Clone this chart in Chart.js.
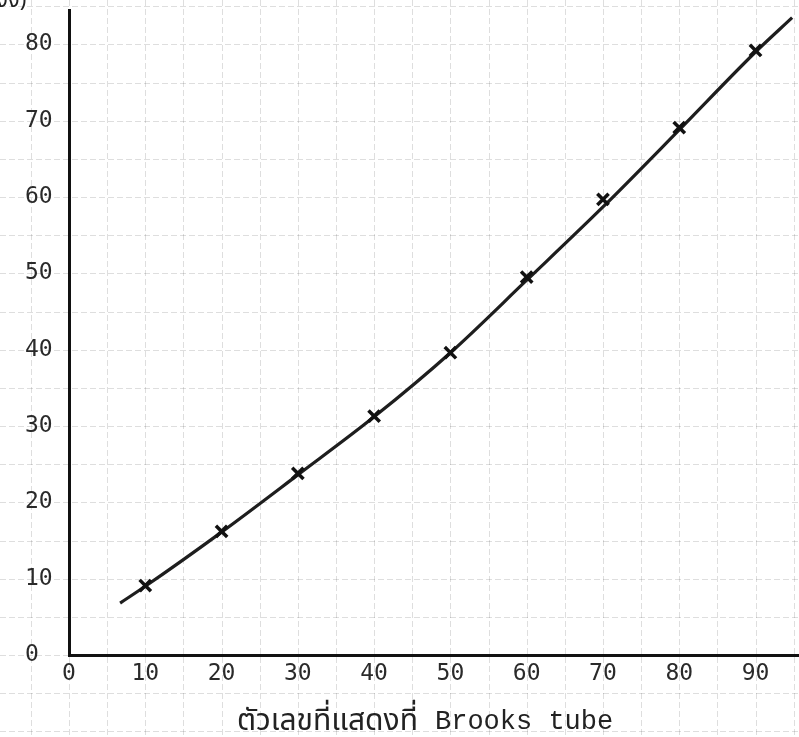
<!DOCTYPE html>
<html>
<head>
<meta charset="utf-8">
<script src="https://cdn.jsdelivr.net/npm/chart.js@4"></script>
<style>
  html, body { margin: 0; padding: 0; background: #fff; }
  #wrap { width: 799px; height: 737px; position: relative; }
</style>
</head>
<body>
<div id="wrap"><canvas id="c" width="799" height="737"></canvas></div>
<script>
// Brooks tube reading vs. measured value
const tubeReadings = [10, 20, 30, 40, 50, 60, 70, 80, 90];
const measured     = [9.1, 16.2, 23.8, 31.3, 39.6, 49.5, 59.7, 69.1, 79.2];

// Hand-drawn fitted curve through the readings
const curveX = [6.7, 10, 20, 30, 40, 50, 60, 70, 80, 90, 94.8];
const curveY = [6.8, 9.0, 16.1, 23.6, 31.2, 39.6, 49.1, 58.7, 68.8, 79.0, 83.5];

const xTicks = [0, 10, 20, 30, 40, 50, 60, 70, 80, 90];
const yTicks = [0, 10, 20, 30, 40, 50, 60, 70, 80];
const xTitleThai = 'ตัวเลขที่แสดงที่';
const xTitleLatin = 'Brooks tube';
const yTitleFragment = 'งง)';

const monoFont = '"DejaVu Sans Mono", "Liberation Mono", monospace';
const latinTitleFont = '"Liberation Mono", "DejaVu Sans Mono", monospace';
const thaiFont = '"Noto Sans Thai", "Noto Sans", "DejaVu Sans", sans-serif';

// Graph-paper grid every 5 units, running across the whole sheet
const paperGrid = {
  id: 'paperGrid',
  beforeDraw(chart) {
    const { ctx, scales: { x, y } } = chart;
    ctx.save();
    ctx.fillStyle = '#fff';
    ctx.fillRect(0, 0, chart.width, chart.height);
    ctx.strokeStyle = 'rgba(0,0,0,0.13)';
    ctx.lineWidth = 1;
    ctx.setLineDash([6, 3]);
    for (let v = -10; v <= 100; v += 5) {
      const px = Math.round(x.getPixelForValue(v)) + 0.5;
      ctx.beginPath(); ctx.moveTo(px, 0); ctx.lineTo(px, chart.height); ctx.stroke();
    }
    for (let v = -15; v <= 90; v += 5) {
      const py = Math.round(y.getPixelForValue(v)) + 0.5;
      ctx.beginPath(); ctx.moveTo(0, py); ctx.lineTo(chart.width, py); ctx.stroke();
    }
    ctx.restore();
  },
  afterDraw(chart) {
    const { ctx } = chart;
    ctx.save();
    ctx.fillStyle = '#222';
    ctx.textBaseline = 'alphabetic';
    ctx.textAlign = 'left';
    // cut-off unit label at the top of the value axis
    ctx.font = '22px ' + thaiFont;
    ctx.fillText(yTitleFragment, -4, 7);
    // axis title under the reading axis
    ctx.font = '30px ' + thaiFont;
    ctx.fillText(xTitleThai, 237, 730);
    ctx.font = '27px ' + latinTitleFont;
    ctx.fillText(xTitleLatin, 435, 729);
    ctx.restore();
  }
};

new Chart(document.getElementById('c'), {
  type: 'scatter',
  data: {
    datasets: [
      {
        label: 'fit',
        type: 'line',
        data: curveX.map((v, i) => ({ x: v, y: curveY[i] })),
        borderColor: '#1e1e1e',
        borderWidth: 3.2,
        pointRadius: 0,
        tension: 0.4,
        cubicInterpolationMode: 'monotone',
        fill: false,
        order: 2
      },
      {
        label: 'readings',
        data: tubeReadings.map((v, i) => ({ x: v, y: measured[i] })),
        pointStyle: 'crossRot',
        pointRadius: 8,
        borderColor: '#111',
        backgroundColor: '#111',
        pointBorderWidth: 3.5,
        order: 1
      }
    ]
  },
  options: {
    responsive: false,
    animation: false,
    layout: { autoPadding: false, padding: { top: 10, right: 0, left: 25, bottom: 0 } },
    plugins: { legend: { display: false }, tooltip: { enabled: false } },
    scales: {
      x: {
        type: 'linear',
        min: 0,
        max: 95.7,
        afterBuildTicks(s) { s.ticks = xTicks.map(v => ({ value: v })); },
        afterFit(s) { s.height = 82; s.paddingLeft = 0; s.paddingRight = 0; },
        grid: { display: false, drawTicks: false },
        border: { display: true, color: '#111', width: 3 },
        ticks: {
          color: '#2a2a2a',
          font: { family: monoFont, size: 23 },
          padding: 5,
          maxRotation: 0,
          autoSkip: false
        }
      },
      y: {
        type: 'linear',
        min: 0,
        max: 84.5,
        afterBuildTicks(s) { s.ticks = yTicks.map(v => ({ value: v })); },
        afterFit(s) { s.width = 44; s.paddingTop = 0; s.paddingBottom = 0; },
        grid: { display: false, drawTicks: false },
        border: { display: true, color: '#111', width: 3 },
        ticks: {
          color: '#2a2a2a',
          font: { family: monoFont, size: 23 },
          padding: 14,
          crossAlign: 'far'
        }
      }
    }
  },
  plugins: [paperGrid]
});
</script>
</body>
</html>
